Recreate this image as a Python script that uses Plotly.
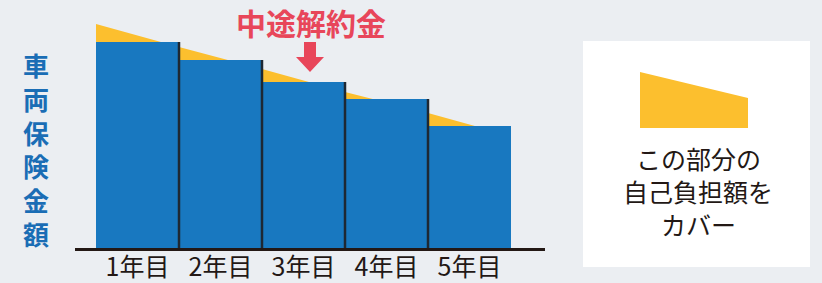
import plotly.graph_objects as go

# ---- data (pixel-height units; baseline = 0) ----
years = ["1年目", "2年目", "3年目", "4年目", "5年目"]
year_pos = [0, 1, 2, 3, 4]
insurance_amount = [206, 188, 166, 149, 122]          # blue bars (車両保険金額)
coverage_edge_x = [-0.5, 0.5, 1.5, 2.5, 3.5, 4.5]     # yellow line sample points
coverage_line = [224, 201, 179, 156, 135, 112]        # yellow (自己負担額をカバー)

y_title = "車両保険金額"
callout_text = "中途解約金"
legend_lines = ["この部分の", "自己負担額を", "カバー"]

BG = "#ebeef2"
BLUE = "#1878c0"
YELLOW = "#fcbf2e"
RED = "#e8465a"
TITLE_BLUE = "#1a6db5"
DARK = "#231815"
FONT = "Noto Sans CJK JP"

W, H = 822, 283
L, R, T, B = 75, 545, 0, 248   # plot-area pixel box


def px(x):
    return (x - L) / (R - L)


def py(y):
    return (B - y) / (B - T)


fig = go.Figure()

# yellow deductible area (behind bars, base axes)
fig.add_trace(go.Scatter(
    x=coverage_edge_x, y=coverage_line, mode="lines", fill="tozeroy",
    fillcolor=YELLOW, line=dict(width=0, color=YELLOW), hoverinfo="skip",
    showlegend=False, xaxis="x", yaxis="y"))

# blue bars on overlaying axes (drawn above the yellow area)
fig.add_trace(go.Bar(
    x=year_pos, y=insurance_amount, width=1, marker=dict(color=BLUE, line=dict(width=0)),
    showlegend=False, hoverinfo="skip", xaxis="x2", yaxis="y2"))

# dark dividers on right edges of bars 1-4 (height of left bar)
div_x, div_y = [], []
for i in range(len(insurance_amount) - 1):
    div_x += [year_pos[i] + 0.5, year_pos[i] + 0.5, None]
    div_y += [0, insurance_amount[i], None]
fig.add_trace(go.Scatter(x=div_x, y=div_y, mode="lines",
                         line=dict(color="#1e2833", width=2.5),
                         hoverinfo="skip", showlegend=False, xaxis="x2", yaxis="y2"))

unit = 83.0
x0 = -0.5 - (96 - L) / unit
x1 = x0 + (R - L) / unit

fig.update_layout(
    width=W, height=H,
    margin=dict(l=L, r=W - R, t=T, b=H - B, pad=0),
    paper_bgcolor=BG, plot_bgcolor=BG,
    bargap=0,
    xaxis=dict(range=[x0, x1], tickvals=year_pos, ticktext=years,
               showgrid=False, zeroline=False, showline=False, ticks="",
               ticklabelstandoff=2,
               tickfont=dict(family=FONT, size=25, color=DARK)),
    yaxis=dict(range=[0, B - T], showgrid=False, zeroline=False,
               showticklabels=False, showline=False),
    xaxis2=dict(range=[x0, x1], overlaying="x", showgrid=False, zeroline=False,
                showticklabels=False, ticks="", showline=True,
                linecolor=DARK, linewidth=2.5, side="bottom"),
    yaxis2=dict(range=[0, B - T], overlaying="y", showgrid=False, zeroline=False,
                showticklabels=False, showline=False),
    font=dict(family=FONT),
)

shapes = []
# legend box
shapes.append(dict(type="rect", xref="paper", yref="paper",
                   x0=px(583), x1=px(810), y0=py(41), y1=py(267),
                   fillcolor="white", line=dict(width=0), layer="below"))
# legend trapezoid swatch
shapes.append(dict(type="path", xref="paper", yref="paper",
                   path=f"M {px(640)} {py(72)} L {px(748)} {py(98)} L {px(748)} {py(128)} L {px(640)} {py(128)} Z",
                   fillcolor=YELLOW, line=dict(width=0)))
# red arrow
shapes.append(dict(type="path", xref="paper", yref="paper",
                   path=(f"M {px(304)} {py(42)} L {px(316)} {py(42)} L {px(316)} {py(57)} "
                         f"L {px(324)} {py(57)} L {px(310)} {py(72)} L {px(296)} {py(57)} "
                         f"L {px(304)} {py(57)} Z"),
                   fillcolor=RED, line=dict(width=0)))
fig.update_layout(shapes=shapes)

annotations = []
annotations.append(dict(text=f"<b>{callout_text}</b>", xref="paper", yref="paper",
                        x=px(311), y=py(22), showarrow=False,
                        xanchor="center", yanchor="middle",
                        font=dict(family=FONT, size=30, color=RED)))
annotations.append(dict(text="<b>" + "<br>".join(y_title) + "</b>", xref="paper", yref="paper",
                        x=px(36), y=py(149), showarrow=False,
                        xanchor="center", yanchor="middle",
                        font=dict(family=FONT, size=26, color=TITLE_BLUE)))
for line, cy in zip(legend_lines, [158, 191, 224]):
    annotations.append(dict(text=line, xref="paper", yref="paper",
                            x=px(698), y=py(cy), showarrow=False,
                            xanchor="center", yanchor="middle",
                            font=dict(family=FONT, size=25, color=DARK)))
fig.update_layout(annotations=annotations)

fig.write_html("out.html", config={"displayModeBar": False},
               post_script="document.body.style.margin='0px';")
